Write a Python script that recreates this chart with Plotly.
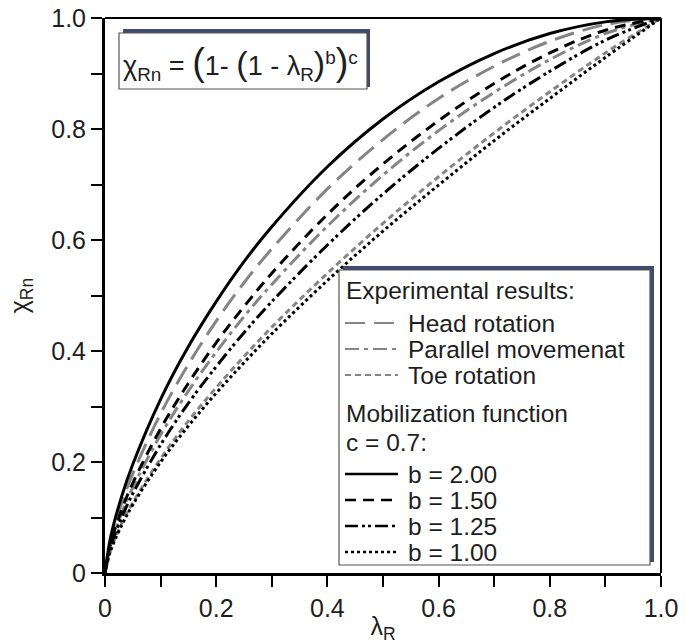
import plotly.graph_objects as go

# ---- data ----
lam = [0, 0.01, 0.03, 0.05, 0.1, 0.15, 0.2, 0.25, 0.3, 0.4, 0.5, 0.6, 0.7, 0.8, 0.9, 1.0]

head_rotation = [0, 0.059, 0.126, 0.179, 0.287, 0.376, 0.454, 0.523, 0.584, 0.692, 0.781, 0.855, 0.913, 0.958, 0.988, 1.0]
parallel_movement = [0, 0.050, 0.108, 0.154, 0.249, 0.328, 0.398, 0.462, 0.520, 0.625, 0.717, 0.797, 0.866, 0.925, 0.972, 1.0]
toe_rotation = [0, 0.041, 0.089, 0.127, 0.206, 0.274, 0.334, 0.390, 0.443, 0.540, 0.630, 0.714, 0.793, 0.867, 0.937, 1.0]

b_200 = [0, 0.064, 0.138, 0.196, 0.313, 0.408, 0.489, 0.561, 0.624, 0.732, 0.818, 0.885, 0.936, 0.972, 0.993, 1.0]
b_150 = [0, 0.053, 0.114, 0.162, 0.260, 0.342, 0.415, 0.480, 0.540, 0.646, 0.737, 0.815, 0.882, 0.937, 0.978, 1.0]
b_125 = [0, 0.047, 0.100, 0.143, 0.231, 0.306, 0.372, 0.433, 0.489, 0.591, 0.683, 0.765, 0.839, 0.904, 0.960, 1.0]
b_100 = [0, 0.040, 0.086, 0.123, 0.200, 0.265, 0.324, 0.379, 0.431, 0.527, 0.616, 0.699, 0.779, 0.855, 0.929, 1.0]

tick_vals = [0, 0.2, 0.4, 0.6, 0.8, 1.0]
tick_text = ["0", "0.2", "0.4", "0.6", "0.8", "1.0"]

exp_names = ["Head rotation", "Parallel movemenat", "Toe rotation"]
mob_names = ["b = 2.00", "b = 1.50", "b = 1.25", "b = 1.00"]

# ---- styles ----
FONT = "Liberation Sans, Arial, sans-serif"
TXT = "#1e1e1e"
GRAY = "#858585"
NAVY = "#3f4c70"
W, H = 685, 644
L, R, T, B = 105, 661, 18, 573

DASH_HEAD = "20px,9px"
DASH_PAR = "14px,5px,4px,5px"
DASH_TOE = "6px,4px"
DASH_150 = "11px,7px"
DASH_125 = "13px,4px,3px,3px,3px,4px"
DASH_100 = "3px,3px"

exp_series = [head_rotation, parallel_movement, toe_rotation]
exp_dash = [DASH_HEAD, DASH_PAR, DASH_TOE]
mob_series = [b_200, b_150, b_125, b_100]
mob_dash = ["solid", DASH_150, DASH_125, DASH_100]


def dx(px):
    return (px - L) / (R - L)


def dy(py):
    return (B - py) / (B - T)


fig = go.Figure()
for name, ys, d in zip(exp_names, exp_series, exp_dash):
    fig.add_trace(go.Scatter(x=lam, y=ys, mode="lines", name=name, showlegend=False,
                             line=dict(color=GRAY, width=3, dash=d, shape="spline")))
for name, ys, d in zip(mob_names, mob_series, mob_dash):
    fig.add_trace(go.Scatter(x=lam, y=ys, mode="lines", name=name, showlegend=False,
                             line=dict(color="black", width=3, dash=d, shape="spline")))

shapes = []
annotations = []

# top/right frame
shapes.append(dict(type="line", xref="paper", yref="paper", x0=0, x1=1, y0=1, y1=1,
                   line=dict(color="black", width=2)))
shapes.append(dict(type="line", xref="paper", yref="paper", x0=1, x1=1, y0=0, y1=1,
                   line=dict(color="black", width=2)))

# formula box with shadow
shapes.append(dict(type="rect", xref="x", yref="y", x0=dx(123), x1=dx(370), y0=dy(87), y1=dy(29),
                   fillcolor=NAVY, line=dict(width=0), layer="above"))
shapes.append(dict(type="rect", xref="x", yref="y", x0=dx(119), x1=dx(367), y0=dy(89), y1=dy(33),
                   fillcolor="white", line=dict(color="#555555", width=1.2), layer="above"))
big = '<span style="font-size:38px">'
mid = '<span style="font-size:34px">'
formula = ('χ<sub>Rn</sub> = ' + big + '(</span>1- ' + mid + '(</span>1 - λ<sub>R</sub>'
           + mid + ')</span><sup>b</sup>' + big + ')</span><sup>c</sup>')
annotations.append(dict(x=dx(121), y=dy(63), xref="x", yref="y", text=formula, showarrow=False,
                        xanchor="left", yanchor="middle", font=dict(family=FONT, size=27, color=TXT)))

# legend box with shadow
shapes.append(dict(type="rect", xref="x", yref="y", x0=dx(343), x1=dx(654), y0=dy(562), y1=dy(266),
                   fillcolor=NAVY, line=dict(width=0), layer="above"))
shapes.append(dict(type="rect", xref="x", yref="y", x0=dx(339), x1=dx(650), y0=dy(565), y1=dy(270),
                   fillcolor="white", line=dict(color="#555555", width=1.2), layer="above"))

LEG_FS = 24.5
annotations.append(dict(x=dx(344), y=dy(290), xref="x", yref="y", text="Experimental results:",
                        showarrow=False, xanchor="left", yanchor="middle",
                        font=dict(family=FONT, size=LEG_FS, color=TXT)))
annotations.append(dict(x=dx(344), y=dy(413), xref="x", yref="y", text="Mobilization function",
                        showarrow=False, xanchor="left", yanchor="middle",
                        font=dict(family=FONT, size=LEG_FS, color=TXT)))
annotations.append(dict(x=dx(344), y=dy(442), xref="x", yref="y", text="c = 0.7:",
                        showarrow=False, xanchor="left", yanchor="middle",
                        font=dict(family=FONT, size=LEG_FS, color=TXT)))

exp_rows = [323, 349, 375]
for name, d, row in zip(exp_names, exp_dash, exp_rows):
    shapes.append(dict(type="line", xref="x", yref="y", x0=dx(345), x1=dx(398), y0=dy(row), y1=dy(row),
                       line=dict(color=GRAY, width=2.2, dash=d), layer="above"))
    annotations.append(dict(x=dx(406), y=dy(row), xref="x", yref="y", text=name, showarrow=False,
                            xanchor="left", yanchor="middle",
                            font=dict(family=FONT, size=LEG_FS, color=TXT)))

mob_rows = [474, 500, 526, 552]
for name, d, row in zip(mob_names, mob_dash, mob_rows):
    shapes.append(dict(type="line", xref="x", yref="y", x0=dx(345), x1=dx(398), y0=dy(row), y1=dy(row),
                       line=dict(color="black", width=2.4, dash=d), layer="above"))
    annotations.append(dict(x=dx(406), y=dy(row), xref="x", yref="y", text=name, showarrow=False,
                            xanchor="left", yanchor="middle",
                            font=dict(family=FONT, size=LEG_FS, color=TXT)))

axis_common = dict(range=[0, 1], tickvals=tick_vals, ticktext=tick_text, ticks="outside",
                   ticklen=11, tickwidth=2, tickcolor="black", showline=True, linecolor="black",
                   linewidth=3, showgrid=False, zeroline=False,
                   tickfont=dict(family=FONT, size=25, color=TXT),
                   minor=dict(dtick=0.1, tick0=0, ticks="outside", ticklen=11, tickwidth=2,
                              tickcolor="black", showgrid=False))

fig.update_layout(
    width=W, height=H,
    margin=dict(l=L, r=W - R, t=T, b=H - B, autoexpand=False),
    paper_bgcolor="white", plot_bgcolor="white",
    showlegend=False,
    xaxis=dict(**axis_common, title=dict(text="λ<sub>R</sub>", standoff=0,
                                         font=dict(family=FONT, size=25, color=TXT))),
    yaxis=dict(**axis_common, title=dict(text="χ<sub>Rn</sub>", standoff=16,
                                         font=dict(family=FONT, size=25, color=TXT))),
    shapes=shapes,
    annotations=annotations,
)

fig.write_html("out.html")
